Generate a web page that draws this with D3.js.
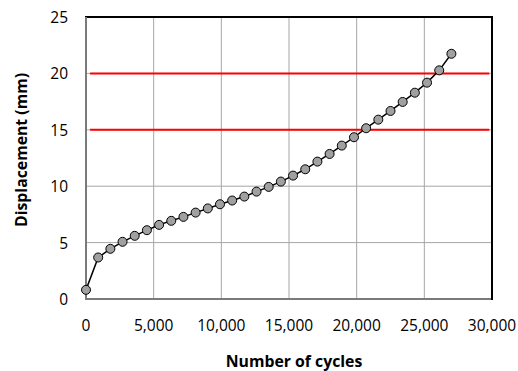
<!DOCTYPE html>
<html><head><meta charset="utf-8">
<script src="https://cdn.jsdelivr.net/npm/d3@7"></script>
<style>body{margin:0;background:#fff;} svg{display:block;}</style>
</head><body>
<svg id="c" width="518" height="371"></svg>
<script>
const cycles = [0, 900, 1800, 2700, 3600, 4500, 5400, 6300, 7200, 8100, 9000, 9900, 10800, 11700, 12600, 13500, 14400, 15300, 16200, 17100, 18000, 18900, 19800, 20700, 21600, 22500, 23400, 24300, 25200, 26100, 27000];
const displacement = [0.81, 3.68, 4.45, 5.07, 5.6, 6.1, 6.57, 6.93, 7.28, 7.66, 8.03, 8.4, 8.73, 9.08, 9.52, 9.94, 10.41, 10.94, 11.5, 12.18, 12.86, 13.6, 14.34, 15.14, 15.9, 16.67, 17.47, 18.29, 19.18, 20.27, 21.74];
const limitLevels = [15, 20];
const limitRange = [300, 29800];
const xTicks = [0, 5000, 10000, 15000, 20000, 25000, 30000];
const yTicks = [0, 5, 10, 15, 20, 25];
const xTitle = "Number of cycles";
const yTitle = "Displacement (mm)";

const svg = d3.select("#c");
const L = 86, R = 492, T = 17, B = 299;
const x = d3.scaleLinear().domain([0, 30000]).range([L, R]);
const y = d3.scaleLinear().domain([0, 25]).range([B, T]);
const font = "'Open Sans', sans-serif";

// gridlines
svg.append("g").selectAll("line.v").data(xTicks.slice(1, -1)).join("line")
  .attr("x1", d => x(d)).attr("x2", d => x(d)).attr("y1", T).attr("y2", B)
  .attr("stroke", "#a6a6a6").attr("stroke-width", 1);
svg.append("g").selectAll("line.h").data(yTicks.slice(1, -1)).join("line")
  .attr("x1", L).attr("x2", R).attr("y1", d => y(d)).attr("y2", d => y(d))
  .attr("stroke", "#a6a6a6").attr("stroke-width", 1);

// frame
svg.append("rect").attr("x", L).attr("y", T).attr("width", R - L).attr("height", B - T)
  .attr("fill", "none").attr("stroke", "#000").attr("stroke-width", 2);
svg.append("line").attr("x1", L).attr("x2", L).attr("y1", T).attr("y2", B + 1)
  .attr("stroke", "#7a7a7a").attr("stroke-width", 2);
svg.append("line").attr("x1", L - 1).attr("x2", R - 1).attr("y1", B).attr("y2", B)
  .attr("stroke", "#7a7a7a").attr("stroke-width", 2);

// limit lines
svg.append("g").selectAll("line").data(limitLevels).join("line")
  .attr("x1", x(limitRange[0])).attr("x2", x(limitRange[1]))
  .attr("y1", d => y(d)).attr("y2", d => y(d))
  .attr("stroke", "#ff0000").attr("stroke-width", 2);

// data line
const pts = cycles.map((c, i) => [c, displacement[i]]);
svg.append("path").datum(pts)
  .attr("d", d3.line().x(d => x(d[0])).y(d => y(d[1])))
  .attr("fill", "none").attr("stroke", "#000").attr("stroke-width", 1.5);
svg.append("g").selectAll("circle").data(pts).join("circle")
  .attr("cx", d => x(d[0])).attr("cy", d => y(d[1])).attr("r", 4.5)
  .attr("fill", "#a0a0a0").attr("stroke", "#000").attr("stroke-width", 1);

// tick labels
const fmt = d3.format(",");
svg.append("g").selectAll("text").data(xTicks).join("text")
  .attr("x", d => x(d)).attr("y", 331).attr("text-anchor", "middle")
  .attr("font-family", font).attr("font-size", 15.5).attr("fill", "#000")
  .text(d => fmt(d));
svg.append("g").selectAll("text").data(yTicks).join("text")
  .attr("x", 68).attr("y", d => y(d) + 6).attr("text-anchor", "end")
  .attr("font-family", font).attr("font-size", 15.5).attr("fill", "#000")
  .text(d => d);

// titles
svg.append("text").attr("x", 294).attr("y", 367).attr("text-anchor", "middle")
  .attr("font-family", font).attr("font-size", 15.8).attr("font-weight", "bold")
  .text(xTitle);
svg.append("text").attr("transform", "translate(27,150) rotate(-90)")
  .attr("text-anchor", "middle")
  .attr("font-family", font).attr("font-size", 15.8).attr("font-weight", "bold")
  .text(yTitle);
</script>
</body></html>
